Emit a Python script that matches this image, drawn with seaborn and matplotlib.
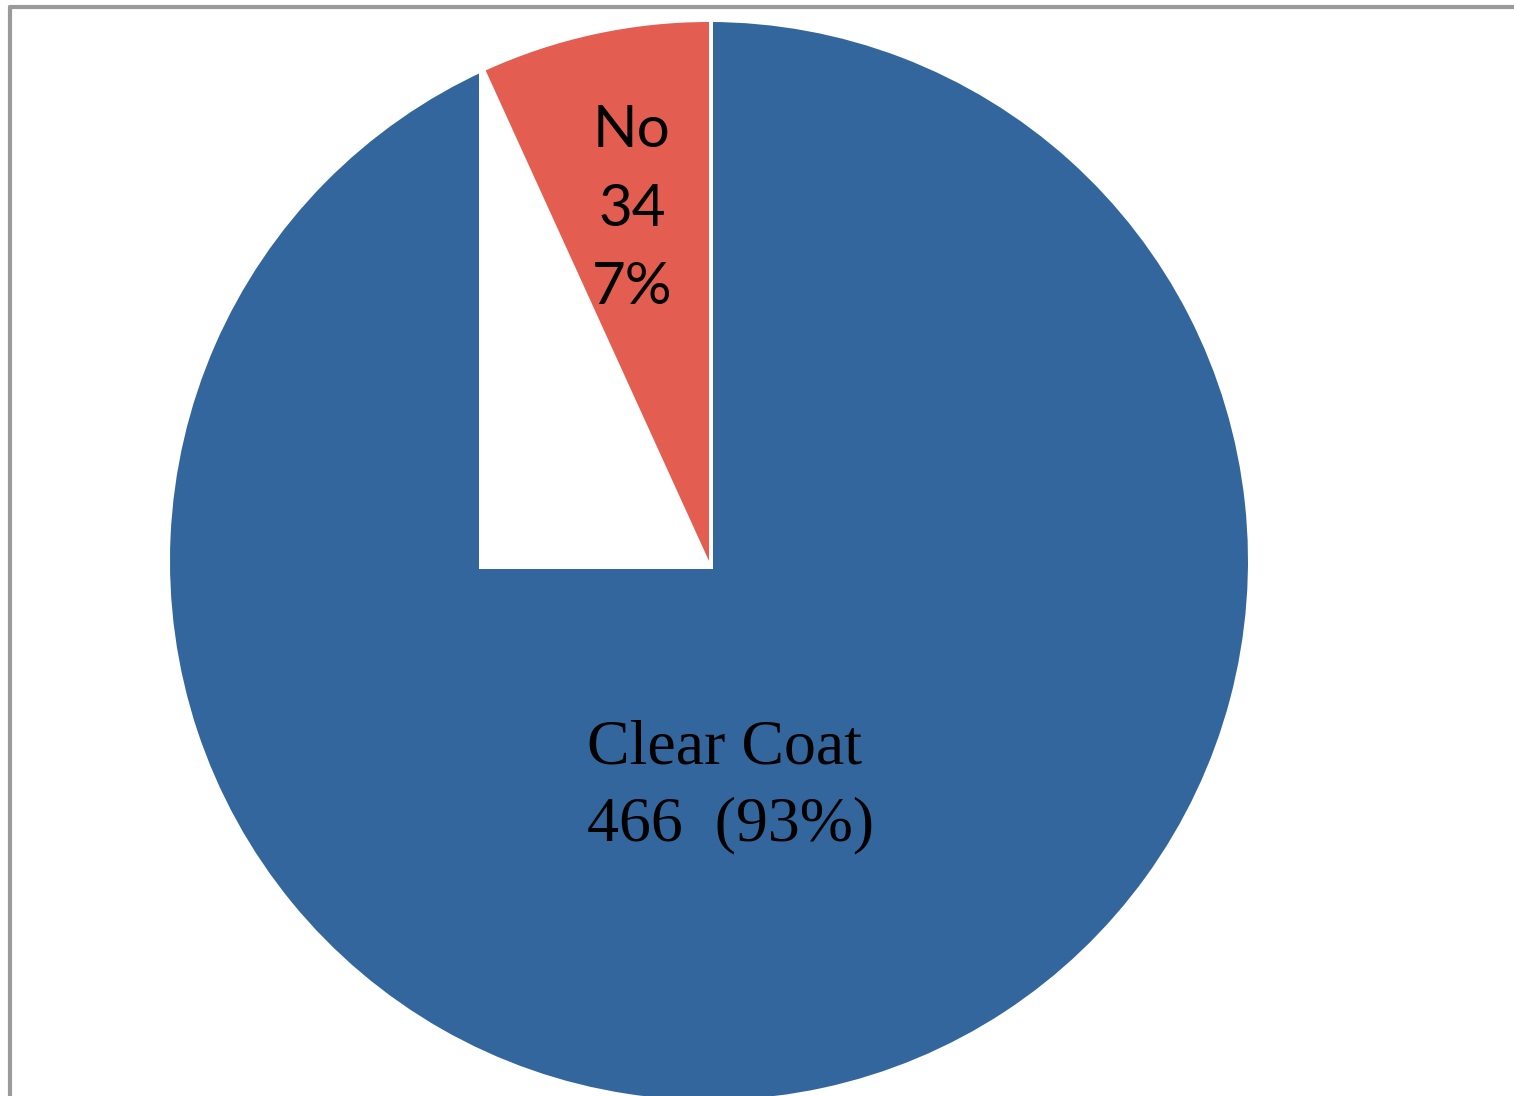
import numpy as np
import matplotlib
matplotlib.use('Agg')
import matplotlib.pyplot as plt
import seaborn as sns
from matplotlib.patches import Rectangle
from matplotlib.lines import Line2D

# data
categorias = ['No', 'Clear Coat']
cantidades = [34, 466]
porcentajes = ['7%', '93%']
colores = ['#E35D50', '#32669C']

sns.set_style('white')

W, H = 1514, 1096
fig = plt.figure(figsize=(W / 100, H / 100), dpi=100)
ax = fig.add_axes([0, 0, 1, 1])

cx, cy, r = 709, 535, 539
wedges, _ = ax.pie(cantidades, colors=colores, startangle=90, counterclock=True,
                   center=(cx, cy), radius=r, frame=True,
                   wedgeprops={'linewidth': 0})
ax.set_xlim(0, W)
ax.set_ylim(0, H)
ax.set_aspect('equal')
ax.axis('off')

# blanco detras de la porcion roja (bounding box de la porcion)
z = wedges[0].get_zorder()
ext = wedges[0].get_path().get_extents()
ax.add_patch(Rectangle((ext.x0 - 7, ext.y0 - 8), ext.width + 11, ext.height + 14,
                       facecolor='white', edgecolor='none', zorder=z + 0.5))
wedges[0].set_zorder(z + 1)

# etiquetas
ax.text(632, 887, f'{categorias[0]}\n{cantidades[0]}\n{porcentajes[0]}', ha='center', va='center',
        fontsize=42, family='Lato', linespacing=1.6, color='black', zorder=10)
ax.text(587, 309, f'{categorias[1]}\n{cantidades[1]}  ({porcentajes[1]})', ha='left', va='center',
        fontsize=46, family='Liberation Serif', linespacing=1.42, color='black', zorder=10)

# marco gris
fig.add_artist(Line2D([10 / W, 10 / W], [0, 1 - 7 / H], color='#9a9a9a', lw=3))
fig.add_artist(Line2D([10 / W, 1], [1 - 7 / H, 1 - 7 / H], color='#9a9a9a', lw=3))

fig.savefig('out.png', dpi=100, facecolor='white')
